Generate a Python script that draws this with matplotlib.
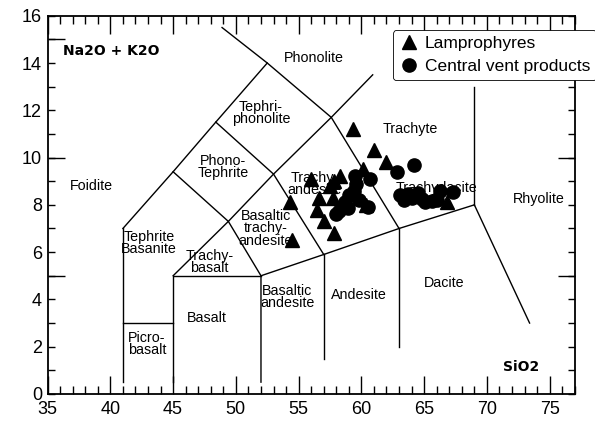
import matplotlib
matplotlib.use("Agg")
import matplotlib.pyplot as plt
from matplotlib.ticker import FixedLocator, FuncFormatter, MultipleLocator

plt.rcParams['font.family'] = ['Liberation Sans', 'DejaVu Sans']

# lamprophyres (SiO2, Na2O+K2O)
lamp_si = [59.3, 61.0, 62.0, 60.1, 56.0, 58.3, 57.8, 57.5, 54.3, 56.6,
           57.7, 56.5, 57.0, 57.8, 54.5, 60.4, 66.8]
lamp_alk = [11.2, 10.3, 9.8, 9.5, 9.1, 9.2, 9.0, 8.8, 8.1, 8.3,
            8.3, 7.8, 7.3, 6.8, 6.5, 8.0, 8.1]

# central vent products
vent_si = [64.2, 62.8, 60.7, 59.5, 59.6, 59.4, 59.0, 59.8, 58.7, 58.9,
           58.2, 58.0, 60.5, 63.1, 63.4, 63.7, 64.0, 64.5, 64.8, 65.1,
           65.6, 66.0, 66.3, 67.3]
vent_alk = [9.7, 9.4, 9.1, 9.2, 8.9, 8.6, 8.4, 8.2, 8.1, 7.85,
            7.75, 7.6, 7.9, 8.4, 8.2, 8.45, 8.3, 8.5, 8.25, 8.1,
            8.15, 8.2, 8.6, 8.55]

# TAS field boundaries
fields = [
    [(41, 0.5), (41, 7)],
    [(41, 3), (45, 3)],
    [(45, 0.5), (45, 5), (52, 5)],
    [(52, 0.5), (52, 5), (57, 5.9), (63, 7), (69, 8)],
    [(57, 1.5), (57, 5.9)],
    [(63, 2.0), (63, 7)],
    [(69, 8), (69, 13)],
    [(69, 8), (73.4, 3.0)],
    [(41, 7), (45, 9.4), (48.4, 11.5), (52.5, 14), (48.9, 15.5)],
    [(45, 5), (49.4, 7.3), (53, 9.3), (57.6, 11.7), (60.9, 13.5)],
    [(45, 9.4), (49.4, 7.3), (52, 5)],
    [(48.4, 11.5), (53, 9.3), (57, 5.9)],
    [(52.5, 14), (57.6, 11.7), (63, 7)],
]

names = [
    ("Phonolite", 56.2, 14.2), ("Tephri-\nphonolite", 52.0, 11.9),
    ("Phono-\nTephrite", 49.0, 9.6), ("Foidite", 38.5, 8.8),
    ("Tephrite\nBasanite", 43.1, 6.4), ("Trachy-\nbasalt", 47.9, 5.6),
    ("Basaltic\ntrachy-\nandesite", 52.4, 7.0), ("Trachy-\nandesite", 56.3, 8.9),
    ("Trachyte", 63.9, 11.2), ("Trachydacite", 66.0, 8.7),
    ("Rhyolite", 74.1, 8.25), ("Basalt", 47.7, 3.2),
    ("Basaltic\nandesite", 54.1, 4.1), ("Andesite", 59.8, 4.2),
    ("Dacite", 66.6, 4.7), ("Picro-\nbasalt", 42.9, 2.1),
]

fig = plt.figure(figsize=(5.95, 4.25), dpi=100)
ax = fig.add_axes([0.080, 0.073, 0.886, 0.890])

for seg in fields:
    xs = [p[0] for p in seg]
    ys = [p[1] for p in seg]
    ax.plot(xs, ys, color='black', lw=1.0, zorder=2)

for txt, x, y in names:
    ax.text(x, y, txt, fontsize=10.3, ha='center', va='center',
            linespacing=0.82, zorder=3)

ax.plot(lamp_si, lamp_alk, '^', color='black', ms=10, ls='none',
        label='Lamprophyres', zorder=4)
ax.plot(vent_si, vent_alk, 'o', color='black', ms=9.5, ls='none',
        label='Central vent products', zorder=4)

ax.text(36.2, 14.5, "Na2O + K2O", fontsize=10, fontweight='bold',
        family=['DejaVu Sans'], va='center')
ax.text(72.7, 1.15, "SiO2", fontsize=10, fontweight='bold',
        family=['DejaVu Sans'], ha='center', va='center')

ax.set_xlim(35, 77)
ax.set_ylim(0, 16)

ax.xaxis.set_major_locator(MultipleLocator(5))
ax.xaxis.set_minor_locator(MultipleLocator(1))
ax.yaxis.set_major_locator(FixedLocator(range(0, 17)))
ax.yaxis.set_major_formatter(FuncFormatter(lambda v, p: "%d" % v if int(v) % 2 == 0 else ""))
ax.yaxis.set_minor_locator(FixedLocator([5, 10, 15]))
ax.yaxis.remove_overlapping_locs = False

ax.tick_params(axis='both', which='both', direction='in', top=True, right=True,
               labelsize=13, width=1.0)
ax.tick_params(axis='x', which='major', length=13, pad=5)
ax.tick_params(axis='x', which='minor', length=6)
ax.tick_params(axis='y', which='major', length=5, pad=4)
ax.tick_params(axis='y', which='minor', length=12)
for s in ax.spines.values():
    s.set_linewidth(1.3)

leg = ax.legend(loc='upper left', bbox_to_anchor=(0.655, 0.962), borderaxespad=0,
                fontsize=12.5, handletextpad=0.3, handlelength=1.2,
                labelspacing=0.45, borderpad=0.35, fancybox=True, framealpha=1)
leg.get_frame().set_edgecolor('black')
leg.get_frame().set_linewidth(0.6)
leg.set_zorder(5)

fig.savefig("out.png", dpi=100)
